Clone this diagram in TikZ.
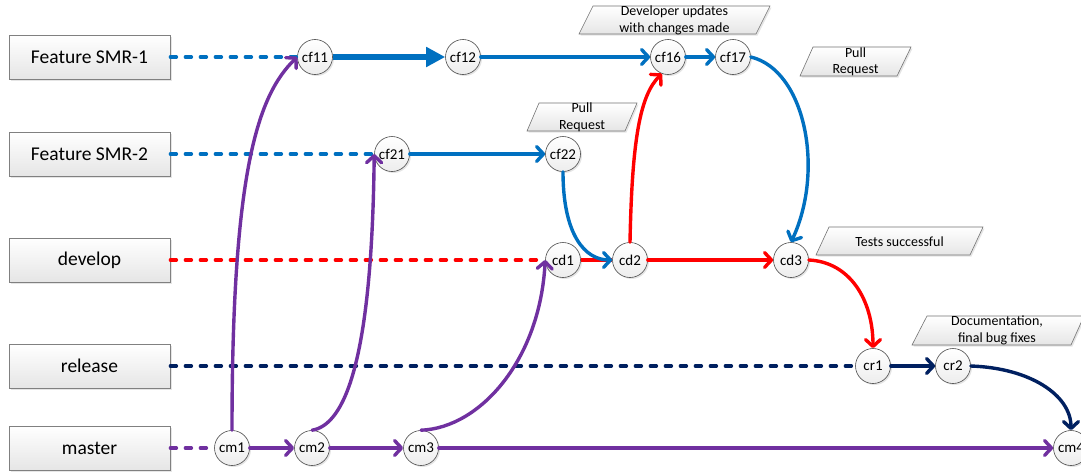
\documentclass[tikz,border=0pt]{standalone}
\usepackage{fontspec}
\setmainfont{Carlito}
\usetikzlibrary{arrows.meta,shadows}
\definecolor{featblue}{RGB}{0,112,192}
\definecolor{devred}{RGB}{255,0,0}
\definecolor{mastpurple}{RGB}{112,48,160}
\definecolor{relnavy}{RGB}{0,32,96}

\begin{document}
\begin{tikzpicture}[x=1pt,y=-1pt,
  softshadow/.style={drop shadow={shadow xshift=1.5pt,shadow yshift=-1.5pt,opacity=0.2}},
  branchbox/.style={rectangle, draw=black!50, line width=0.8pt, top color=white, bottom color=black!10,
    minimum width=161pt, minimum height=44pt, inner sep=0pt,
    font=\fontsize{19.5}{22}\selectfont, softshadow},
  commit/.style={circle, draw=black!70, line width=0.6pt, top color=white, bottom color=black!7,
    minimum size=35pt, inner sep=0pt, font=\fontsize{15}{17}\selectfont, softshadow},
  notefill/.style={draw=black!55, line width=0.6pt, top color=white, bottom color=black!10, softshadow},
  notetext/.style={align=center, inner sep=0pt, font=\fontsize{14}{16.5}\selectfont},
  flow/.style={line width=3.4pt, line cap=round, -{Straight Barb[length=7pt,width=15pt,round]}},
  trail/.style={line width=3.4pt, line cap=round, dash pattern=on 6pt off 9pt},
]
\path[use as bounding box, clip] (0,0) rectangle (1081,471);
\fill[white] (0,0) rectangle (1081,471);

% branch labels
\node[branchbox] (smr1) at (89.5,57) {Feature SMR-1};
\node[branchbox] (smr2) at (89.5,154) {Feature SMR-2};
\node[branchbox] (dev)  at (89.5,260) {develop};
\node[branchbox] (rel)  at (89.5,366) {release};
\node[branchbox] (mst)  at (89.5,448) {master};

% annotation parallelograms
\path[notefill] (579,34) -- (593,6) -- (770,6) -- (756,34) -- cycle;
\node[notetext] (devnote) at (674.5,20.5) {Developer updates\\with changes made};
\path[notefill] (527,131) -- (539,103) -- (637,103) -- (625,131) -- cycle;
\node[notetext] (pr2note) at (582,117.5) {Pull\\Request};
\path[notefill] (800,76) -- (813,47) -- (911,47) -- (897,76) -- cycle;
\node[notetext] (pr1note) at (855.5,62) {Pull\\Request};
\path[notefill] (816,255) -- (829,227) -- (983,227) -- (970,255) -- cycle;
\node[notetext] (testnote) at (899.5,241.5) {Tests successful};
\path[notefill] (912,345) -- (927,316) -- (1084,316) -- (1071,345) -- cycle;
\node[notetext] (docnote) at (997,330.5) {Documentation,\\final bug fixes};

% commits
\node[commit] (cf11) at (315,57) {cf11};
\node[commit] (cf12) at (463,57) {cf12};
\node[commit] (cf16) at (668,57) {cf16};
\node[commit] (cf17) at (733,57) {cf17};
\node[commit] (cf21) at (392,154) {cf21};
\node[commit] (cf22) at (563,154) {cf22};
\node[commit] (cd1)  at (563,260) {cd1};
\node[commit] (cd2)  at (630,260) {cd2};
\node[commit] (cd3)  at (791,260) {cd3};
\node[commit] (cr1)  at (873,366) {cr1};
\node[commit] (cr2)  at (953,366) {cr2};
\node[commit] (cm1)  at (232,448) {cm1};
\node[commit] (cm2)  at (312,448) {cm2};
\node[commit] (cm3)  at (421,448) {cm3};
\node[commit] (cm4)  at (1071,448) {cm4};

% branch starts
\draw[trail, featblue] (smr1.east) -- (cf11.west);
\draw[trail, featblue] (smr2.east) -- (cf21.west);
\draw[trail, devred] (dev.east) -- (cd1.west);
\draw[trail, relnavy] (rel.east) -- (cr1.west);
\draw[trail, mastpurple] (mst.east) -- (cm1.west);

% feature SMR-1
\draw[featblue, line width=5.5pt, -{Triangle[length=19pt,width=19pt]}] (cf11) -- (cf12);
\draw[flow, featblue] (cf12) -- (cf16);
\draw[flow, featblue] (cf16) -- (cf17);

% feature SMR-2
\draw[flow, featblue] (cf21) -- (cf22);

% develop
\draw[devred, line width=3.4pt] (cd1) -- (cd2);
\draw[flow, devred] (cd2) -- (cd3);
\draw[flow, devred] (cd2.north) .. controls (632,140) and (640,95) .. (cf16.250);
\draw[flow, devred] (cd3.east) .. controls (850,262) and (873,300) .. (cr1.north);

% merges of the features into develop
\draw[flow, featblue] (cf22.south) .. controls (563,235) and (585,260) .. (cd2.west);
\draw[flow, featblue] (cf17.east) .. controls (805,70) and (825,170) .. (cd3.north);

% release
\draw[flow, relnavy] (cr1) -- (cr2);
\draw[flow, relnavy] (cr2.east) .. controls (1030,368) and (1071,395) .. (cm4.north);

% master
\draw[flow, mastpurple] (cm1) -- (cm2);
\draw[flow, mastpurple] (cm2) -- (cm3);
\draw[flow, mastpurple] (cm3) -- (cm4);
\draw[flow, mastpurple] (cm1.north) .. controls (232,170) and (258,95) .. (cf11.west);
\draw[flow, mastpurple] (cm2.north) .. controls (345,425) and (372,360) .. (cf21.west);
\draw[flow, mastpurple] (cm3.north) .. controls (480,428) and (540,360) .. (cd1.west);
\end{tikzpicture}
\end{document}
